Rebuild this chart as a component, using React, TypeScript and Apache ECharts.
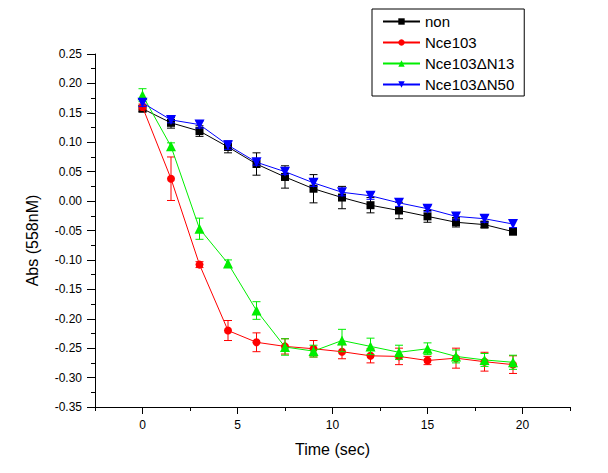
import React, { useEffect, useRef } from "react";
import * as echarts from "echarts";

const times = [0, 1.5, 3, 4.5, 6, 7.5, 9, 10.5, 12, 13.5, 15, 16.5, 18, 19.5];
const seriesNames = ["non", "Nce103", "Nce103\u0394N13", "Nce103\u0394N50"];
const nonVals = [0.157, 0.133, 0.119, 0.092, 0.063, 0.041, 0.021, 0.006, -0.007, -0.016, -0.026, -0.036, -0.04, -0.052];
const nonErr = [0.005, 0.009, 0.009, 0.01, 0.019, 0.019, 0.024, 0.019, 0.013, 0.014, 0.01, 0.008, 0.005, 0.005];
const nce103Vals = [0.16, 0.038, -0.108, -0.22, -0.24, -0.247, -0.251, -0.256, -0.263, -0.264, -0.271, -0.267, -0.273, -0.278];
const nce103Err = [0.005, 0.037, 0.005, 0.017, 0.016, 0.013, 0.014, 0.012, 0.012, 0.014, 0.007, 0.017, 0.016, 0.015];
const n13Vals = [0.18, 0.093, -0.047, -0.106, -0.186, -0.248, -0.255, -0.237, -0.247, -0.257, -0.251, -0.264, -0.27, -0.274];
const n13Err = [0.011, 0.006, 0.018, 0.006, 0.015, 0.014, 0.01, 0.019, 0.014, 0.012, 0.01, 0.011, 0.011, 0.012];
const n50Vals = [0.167, 0.138, 0.13, 0.095, 0.066, 0.05, 0.031, 0.015, 0.009, -0.003, -0.013, -0.026, -0.03, -0.039];
const n50Err = [0.006, 0.005, 0.006, 0.007, 0.005, 0.005, 0.006, 0.006, 0.006, 0.006, 0.005, 0.006, 0.006, 0.006];

const xMajorTicks = [0, 5, 10, 15, 20];
const xMinorTicks = [-2.5, 2.5, 7.5, 12.5, 17.5, 22.5];
const yMajorTicks = [-0.35, -0.3, -0.25, -0.2, -0.15, -0.1, -0.05, 0, 0.05, 0.1, 0.15, 0.2, 0.25];
const yMinorTicks = [-0.325, -0.275, -0.225, -0.175, -0.125, -0.075, -0.025, 0.025, 0.075, 0.125, 0.175, 0.225];

const FONT = "'Liberation Sans', Arial, sans-serif";

export default function App() {
  const ref = useRef<HTMLDivElement>(null);
  useEffect(() => {
    if (!ref.current) return;
    const chart = echarts.init(ref.current, undefined, { renderer: "svg" });
    const colors = ["#000000", "#ff0000", "#00ee00", "#0000ff"];
    const symbols = ["rect", "circle", "triangle", "path://M0,0 L10,0 L5,9 Z"];
    const symbolSizes = [8, 8, 10, 10];
    const vals = [nonVals, nce103Vals, n13Vals, n50Vals];
    const errs = [nonErr, nce103Err, n13Err, n50Err];

    const series: any[] = [];
    vals.forEach((v, i) => {
      series.push({
        type: "custom",
        xAxisIndex: 0,
        yAxisIndex: 0,
        z: 2 + i * 2,
        silent: true,
        data: times.map((t, j) => [t, v[j] - errs[i][j], v[j] + errs[i][j]]),
        renderItem: (params: any, api: any) => {
          const x = api.value(0);
          const lo = api.coord([x, api.value(1)]);
          const hi = api.coord([x, api.value(2)]);
          const w = 4;
          const st = { stroke: colors[i], lineWidth: 1 };
          return {
            type: "group",
            children: [
              { type: "line", shape: { x1: lo[0], y1: lo[1], x2: hi[0], y2: hi[1] }, style: st },
              { type: "line", shape: { x1: lo[0] - w, y1: lo[1], x2: lo[0] + w, y2: lo[1] }, style: st },
              { type: "line", shape: { x1: hi[0] - w, y1: hi[1], x2: hi[0] + w, y2: hi[1] }, style: st },
            ],
          };
        },
      });
      series.push({
        type: "line",
        name: seriesNames[i],
        xAxisIndex: 0,
        yAxisIndex: 0,
        z: 3 + i * 2,
        data: times.map((t, j) => [t, v[j]]),
        symbol: symbols[i],
        symbolSize: symbolSizes[i],
        showAllSymbol: true,
        lineStyle: { color: colors[i], width: 1 },
        itemStyle: { color: colors[i] },
        emphasis: { disabled: true },
      });
    });

    const axisLineStyle = { color: "#000", width: 1 };
    chart.setOption({
      animation: false,
      backgroundColor: "#fff",
      grid: { left: 95, right: 38, top: 54, bottom: 66, containLabel: false },
      legend: {
        orient: "vertical",
        left: 372,
        top: 9,
        padding: [5, 10, 4, 10],
        itemWidth: 37,
        itemHeight: 8,
        itemGap: 6,
        itemTextGap: 5,
        borderColor: "#000",
        borderWidth: 1,
        backgroundColor: "#fff",
        textStyle: { fontFamily: FONT, fontSize: 15, color: "#000", lineHeight: 14 },
        data: seriesNames,
      },
      xAxis: [
        {
          type: "value",
          position: "bottom",
          min: -2.5,
          max: 22.5,
          name: "Time (sec)",
          nameLocation: "middle",
          nameGap: 34,
          nameTextStyle: { fontFamily: FONT, fontSize: 16, color: "#000" },
          axisLine: { show: true, onZero: false, lineStyle: axisLineStyle },
          axisTick: { show: true, inside: false, length: 7, customValues: xMajorTicks, lineStyle: axisLineStyle },
          axisLabel: { show: true, margin: 12, customValues: xMajorTicks, fontFamily: FONT, fontSize: 12, color: "#000" },
          splitLine: { show: false },
        },
        {
          type: "value",
          position: "bottom",
          min: -2.5,
          max: 22.5,
          axisLine: { show: false, onZero: false },
          axisTick: { show: true, inside: false, length: 4, customValues: xMinorTicks, lineStyle: axisLineStyle },
          axisLabel: { show: false },
          splitLine: { show: false },
        },
      ],
      yAxis: [
        {
          type: "value",
          position: "left",
          min: -0.35,
          max: 0.25,
          name: "Abs (558nM)",
          nameLocation: "middle",
          nameGap: 55,
          nameTextStyle: { fontFamily: FONT, fontSize: 16, color: "#000", padding: [0, 20, 0, 0] },
          axisLine: { show: true, onZero: false, lineStyle: axisLineStyle },
          axisTick: { show: true, inside: false, length: 8, customValues: yMajorTicks, lineStyle: axisLineStyle },
          axisLabel: {
            show: true,
            margin: 13,
            customValues: yMajorTicks,
            fontFamily: FONT,
            fontSize: 12,
            color: "#000",
            formatter: (v: number) => v.toFixed(2),
          },
          splitLine: { show: false },
        },
        {
          type: "value",
          position: "left",
          min: -0.35,
          max: 0.25,
          axisLine: { show: false, onZero: false },
          axisTick: { show: true, inside: false, length: 4, customValues: yMinorTicks, lineStyle: axisLineStyle },
          axisLabel: { show: false },
          splitLine: { show: false },
        },
      ],
      series,
    });
    return () => chart.dispose();
  }, []);
  return (
    <div
      ref={ref}
      style={{ position: "fixed", left: 0, top: 0, width: 608, height: 473, background: "#fff" }}
    />
  );
}
